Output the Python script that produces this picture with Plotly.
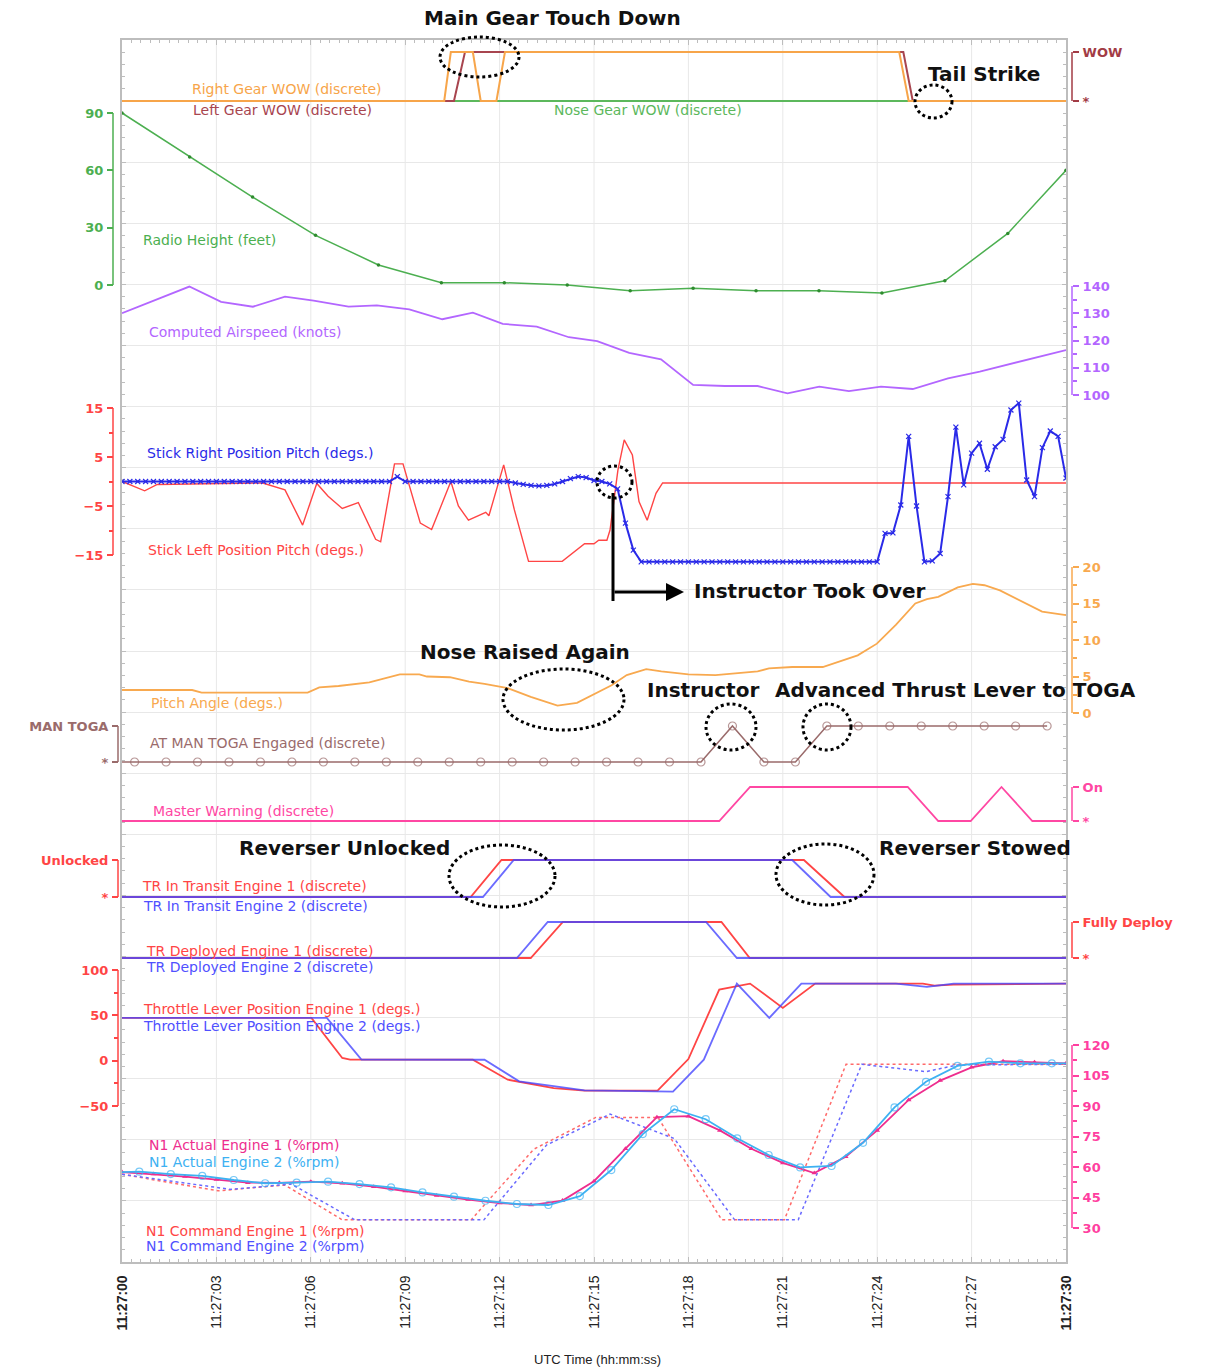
import plotly.graph_objects as go

W, H = 1207, 1369

# ---------------- data (time in seconds after 11:27:00) ----------------
TIME_TICKS = [0, 3, 6, 9, 12, 15, 18, 21, 24, 27, 30]
TIME_LABELS = ["<b>11:27:00</b>", "11:27:03", "11:27:06", "11:27:09", "11:27:12", "11:27:15",
               "11:27:18", "11:27:21", "11:27:24", "11:27:27", "<b>11:27:30</b>"]

RIGHT_WOW_T = [0, 10.24, 10.45, 11.15, 11.4, 11.9, 12.17, 24.7, 25.0, 30]
RIGHT_WOW_V = [0, 0, 1, 1, 0, 0, 1, 1, 0, 0]
LEFT_WOW_T = [0, 10.55, 10.9, 24.83, 25.13, 30]
LEFT_WOW_V = [0, 0, 1, 1, 0, 0]
NOSE_WOW_T = [0, 30]
NOSE_WOW_V = [0, 0]

RH_T = [0, 2.15, 4.15, 6.15, 8.15, 10.15, 12.15, 14.15, 16.15, 18.15, 20.15, 22.15, 24.15, 26.15, 28.15, 30]
RH_V = [90, 67, 46, 26, 10.5, 1.2, 1.2, 0, -3, -1.7, -3, -3, -4.2, 2.2, 27, 60]

AS_T = [0, 2.14, 3.15, 4.16, 5.18, 6.09, 7.2, 8.1, 9.13, 10.18, 11.15, 12.1, 13.18, 14.2, 15.1,
        16.12, 17.13, 18.15, 19.16, 20.2, 21.15, 22.16, 23.1, 24.12, 25.13, 26.25, 27.26, 28.28, 29.3, 30]
AS_V = [130, 139.8, 134.2, 132.4, 136.1, 134.6, 132.4, 132.9, 131.4, 127.8, 130.2, 126.1, 125.1, 121.2, 119.8,
        115.5, 113.1, 103.7, 103.3, 103.3, 100.6, 103.1, 101.4, 103.1, 102.2, 106.1, 108.6, 111.6, 114.7, 116.5]

STICK_R_T = [i * 0.25 for i in range(121)]
STICK_R_V = [0, 0, 0, 0, 0, 0, 0, 0, 0, 0, 0, 0, 0, 0, 0, 0, 0, 0, 0, 0,
             0, 0, 0, 0, 0, 0, 0, 0, 0, 0, 0, 0, 0, 0, 0, 1.0,
             0, 0, 0, 0, 0, 0, 0, 0, 0, 0, 0, 0, 0, 0,
             -0.3, -0.6, -0.8, -0.9, -0.8, -0.5, 0.0, 0.6, 1.0, 0.8, 0.2, 0.0, -0.5, -1.5, -8.5, -14.0,
             -16.4, -16.4, -16.4, -16.4, -16.4, -16.4, -16.4, -16.4, -16.4, -16.4, -16.4, -16.4, -16.4,
             -16.4, -16.4, -16.4, -16.4, -16.4, -16.4, -16.4, -16.4, -16.4, -16.4, -16.4, -16.4, -16.4,
             -16.4, -16.4, -16.4, -16.4, -16.4,
             -10.6, -10.5, -4.8, 9.2, -5.0, -16.4, -16.2, -14.7, -3.1, 11.1, -0.7, 5.8, 7.8, 2.5, 7.1,
             8.6, 14.6, 16.0, 0.3, -3.1, 6.9, 10.3, 9.2, 0.7]

STICK_L_T = [0, 0.72, 1.12, 4.47, 5.18, 5.74, 6.19, 6.55, 7.0, 7.51, 8.06, 8.22, 8.66, 8.93, 9.48, 9.84,
             10.45, 10.69, 11.01, 11.56, 11.66, 12.13, 12.47, 12.92, 13.99, 14.7, 15.0, 15.15, 15.41, 15.51,
             15.76, 15.96, 16.22, 16.43, 16.69, 16.97, 17.18, 30]
STICK_L_V = [0, -1.9, -0.6, -0.3, -1.7, -8.9, -0.4, -3, -5.5, -4.3, -11.8, -12.3, 3.6, 3.6, -8.5, -9.8,
             0, -5, -7.9, -6.3, -7, 3.4, -5.8, -16.3, -16.3, -12.7, -12.7, -12.0, -12, -9.9,
             2.3, 8.5, 5.4, -4.1, -7.9, -2.4, -0.3, -0.3]

PITCH_T = [0, 2.23, 2.53, 5.9, 6.27, 6.88, 7.86, 8.22, 8.83, 9.45, 9.69, 10.42, 11.03, 11.52, 12.26, 12.99,
           13.84, 14.46, 15.07, 15.56, 16.04, 16.66, 17.14, 18.0, 18.86, 19.59, 20.2, 20.56, 21.3, 22.27,
           22.64, 23.38, 23.99, 24.6, 25.21, 25.58, 25.94, 26.56, 27.04, 27.41, 27.9, 28.63, 29.24, 30]
PITCH_V = [3.15, 3.15, 2.8, 2.8, 3.5, 3.7, 4.2, 4.6, 5.3, 5.3, 5.0, 4.9, 4.3, 4.0, 3.4, 2.2,
           1.0, 1.4, 2.7, 3.8, 5.2, 6.0, 5.7, 5.3, 5.2, 5.5, 5.7, 6.1, 6.3, 6.3,
           6.8, 7.9, 9.5, 12.1, 15.0, 15.6, 15.9, 17.2, 17.7, 17.5, 16.8, 15.2, 13.9, 13.4]

TOGA_T = [0, 0.4, 1.4, 2.4, 3.4, 4.4, 5.4, 6.4, 7.4, 8.4, 9.4, 10.4, 11.4, 12.4, 13.4, 14.4, 15.4, 16.4,
          17.4, 18.4, 19.4, 20.4, 21.4, 22.4, 23.4, 24.4, 25.4, 26.4, 27.4, 28.4, 29.4]
TOGA_V = [0, 0, 0, 0, 0, 0, 0, 0, 0, 0, 0, 0, 0, 0, 0, 0, 0, 0, 0, 0, 1, 0, 0, 1, 1, 1, 1, 1, 1, 1, 1]

MW_T = [0, 18.98, 19.96, 24.97, 25.94, 26.97, 27.95, 28.93, 30]
MW_V = [0, 0, 1, 1, 0, 0, 1, 0, 0]

TRT1_T = [0, 11.08, 12.06, 21.67, 22.96, 30]
TRT2_T = [0, 11.47, 12.45, 21.3, 22.52, 30]
TRT_V = [0, 0, 1, 1, 0, 0]
TRD1_T = [0, 12.99, 14.01, 19.05, 19.95, 30]
TRD2_T = [0, 12.55, 13.53, 18.56, 19.54, 30]
TRD_V = [0, 0, 1, 1, 0, 0]

TLA1_T = [0, 6.02, 7.0, 7.25, 11.15, 12.26, 13.72, 14.7, 17.02, 18.0, 18.98, 19.96, 21.0, 22.03,
          25.45, 25.82, 26.43, 30]
TLA1_V = [47.1, 47.1, 3, 1.1, 1.1, -21, -30.2, -33.1, -33.1, 1.8, 78.4, 85, 58.1, 85, 85, 82.8, 83.9, 85]
TLA2_T = [0, 6.51, 7.61, 11.52, 12.62, 12.99, 14.7, 17.51, 18.49, 19.54, 20.57, 21.59, 24.6, 25.58, 26.43, 30]
TLA2_V = [47.1, 47.1, 1.1, 1, -22.8, -24.6, -32.7, -34.2, 1.1, 85, 47.1, 85, 85, 81.3, 85, 85]

N1A1_T = [0, 1, 2, 3, 4, 5, 6, 7, 8, 9, 10, 11, 12, 13, 14, 15, 16, 17, 18, 19, 20, 21, 22, 23, 24, 25,
          26, 27, 28, 29, 30]
N1A1_V = [57.5, 56.5, 55.3, 53.8, 52.3, 52.2, 52.8, 52.0, 50.3, 48.2, 46, 44, 42.3, 41.3, 43.5, 53, 69,
          84.5, 85, 78, 69, 62, 57, 65, 78, 93, 102.5, 109, 112, 111.5, 111]
N1A2_T = [0, 0.55, 1.55, 2.55, 3.55, 4.55, 5.55, 6.55, 7.55, 8.55, 9.55, 10.55, 11.55, 12.55, 13.55, 14.55,
          15.55, 16.55, 17.55, 18.55, 19.55, 20.55, 21.55, 22.55, 23.55, 24.55, 25.55, 26.55, 27.55, 28.55,
          29.55, 30]
N1A2_V = [57.5, 57.7, 56.5, 55.6, 53.6, 52, 52.3, 52.8, 51.6, 50, 47.5, 45.4, 43.4, 41.8, 41.3, 45.7, 58.5,
          76.2, 88.4, 83.5, 74.1, 65.9, 59.8, 60.5, 71.9, 89.3, 101.9, 109.7, 111.8, 111, 111, 111]
N1C1_T = [0, 3.05, 5.18, 7.0, 11.1, 13.08, 15.06, 17.03, 19.06, 21.05, 23.01, 30]
N1C1_V = [56.4, 48.3, 51.1, 34, 34, 68.7, 84.4, 84.4, 34, 34, 110.5, 110.5]
N1C2_T = [0, 3.45, 5.38, 7.4, 11.5, 13.49, 15.51, 17.55, 19.47, 21.49, 23.51, 25.55, 26.56, 30]
N1C2_V = [56.4, 49, 51.6, 34, 34, 70.8, 86, 74, 34, 34, 110.5, 106.9, 110.2, 110.5]

# ---------------- styling ----------------
FONT = "DejaVu Sans"
C_WOW = "#a23b45"
C_RGEAR = "#f7a54a"
C_LGEAR = "#a8454f"
C_NOSE = "#5cb85c"
C_RH = "#4caf50"
C_AS = "#b366ff"
C_RED = "#ff4545"
C_BLUE = "#2a2ae8"
C_PITCH = "#f8a94f"
C_TOGA = "#9a6b6b"
C_MW = "#ff47a3"
C_TRB = "#5050ff"
C_TRB_T = "rgba(70,70,255,0.8)"
C_N1AX = "#ff3fa0"
C_N1A1 = "#ee2d8e"
C_N1A2 = "#3db1f2"
FRAME = "#bdbdbd"
GRID = "#e8e8e8"

X_LEFT, X_RIGHT, Y_TOP, Y_BOT = 122, 1066, 40, 1262


def xp(px):
    return px / W


def yp(py):
    return (H - py) / H


def axis_range(v_a, p_a, v_b, p_b, top, bot):
    k = (p_b - p_a) / (v_b - v_a)
    return [v_a + (bot - p_a) / k, v_a + (top - p_a) / k], [yp(bot), yp(top)]


fig = go.Figure()

layout = dict(
    template="none",
    width=W, height=H, autosize=False, margin=dict(l=0, r=0, t=0, b=0, pad=0, autoexpand=False),
    paper_bgcolor="white", plot_bgcolor="rgba(0,0,0,0)", showlegend=False,
    xaxis=dict(domain=[xp(X_LEFT), xp(X_RIGHT)], range=[0, 30], anchor="y", automargin=False,
               tickmode="array", tickvals=TIME_TICKS, ticktext=TIME_LABELS, tickangle=-90,
               ticks="inside", ticklen=5, tickcolor=FRAME,
               minor=dict(dtick=0.3, tick0=0, ticks="inside", ticklen=3, tickcolor=FRAME, showgrid=False),
               showgrid=False, zeroline=False, showline=True, linecolor=FRAME, linewidth=1.5,
               mirror="ticks", tickfont=dict(family="Liberation Sans", size=14, color="#222"),
               ticklabelstandoff=6),
    yaxis=dict(domain=[yp(Y_BOT), yp(Y_TOP)], range=[0, 20], anchor="x", automargin=False,
               tickmode="linear", tick0=0, dtick=1, ticks="inside", ticklen=4, tickcolor=FRAME,
               minor=dict(dtick=0.2, tick0=0, ticks="inside", ticklen=3, tickcolor=FRAME, showgrid=False),
               showgrid=True, gridcolor=GRID, gridwidth=1, showticklabels=False,
               zeroline=False, showline=True, linecolor=FRAME, linewidth=1.5, mirror="ticks"),
)

shapes = []
# vertical grid lines at the labelled times
for t in TIME_TICKS[1:-1]:
    shapes.append(dict(type="line", xref="x", yref="paper", x0=t, x1=t, y0=yp(Y_BOT), y1=yp(Y_TOP),
                       line=dict(color=GRID, width=1), layer="below"))

AXES = [
    # name, ref points, domain px (top, bot), side, x pos, color, tickvals, ticktext, minor
    ("y2", (0, 101, 1, 52), (44, 110), "right", 1072, C_WOW, [0, 1], ["*", "WOW"], None),
    ("y3", (0, 285, 90, 113), (104, 300), "left", 113, C_RH, [0, 30, 60, 90], None, None),
    ("y4", (100, 395, 140, 286), (278, 402), "right", 1072, C_AS, [100, 110, 120, 130, 140], None,
     [105, 115, 125, 135]),
    ("y5", (-15, 555, 15, 408), (398, 572), "left", 113, C_RED, [-15, -5, 5, 15], None, [-10, 0, 10]),
    ("y6", (0, 713, 20, 567), (560, 722), "right", 1072, C_PITCH, [0, 5, 10, 15, 20], None,
     [2.5, 7.5, 12.5, 17.5]),
    ("y7", (0, 762, 1, 726), (716, 772), "left", 118, C_TOGA, [0, 1], ["*", "MAN TOGA"], None),
    ("y8", (0, 821, 1, 787), (778, 830), "right", 1072, C_MW, [0, 1], ["*", "On"], None),
    ("y9", (0, 897, 1, 860), (850, 906), "left", 118, C_RED, [0, 1], ["*", "Unlocked"], None),
    ("y10", (0, 958, 1, 922), (913, 966), "right", 1072, C_RED, [0, 1], ["*", "Fully Deploy"], None),
    ("y11", (-50, 1106, 100, 970), (960, 1116), "left", 118, C_RED, [-50, 0, 50, 100], None,
     [-25, 25, 75]),
    ("y12", (30, 1228, 120, 1045), (1038, 1240), "right", 1072, C_N1AX,
     [30, 45, 60, 75, 90, 105, 120], None, [37.5, 52.5, 67.5, 82.5, 97.5, 112.5]),
]

for name, ref, dom, side, pos, col, tv, tt, minor in AXES:
    rng, domain = axis_range(ref[0], ref[1], ref[2], ref[3], dom[0], dom[1])
    ax = dict(domain=domain, range=rng, anchor="free", position=xp(pos), side=side, automargin=False,
              tickmode="array", tickvals=tv, ticks="outside", ticklen=6, tickwidth=1.5, tickcolor=col,
              showgrid=False, zeroline=False, showline=False,
              tickfont=dict(family=FONT, size=13, color=col, weight="bold"), ticklabelstandoff=1)
    if tt is not None:
        ax["ticktext"] = tt
    if minor is not None:
        ax["minor"] = dict(tickmode="array", tickvals=minor, ticks="outside", ticklen=4,
                           tickwidth=1.5, tickcolor=col, showgrid=False)
    layout["yaxis" + name[1:]] = ax
    shapes.append(dict(type="line", xref="paper", yref=name, x0=xp(pos), x1=xp(pos),
                       y0=min(tv), y1=max(tv), line=dict(color=col, width=1.5)))


def add(t, v, ax, color, width=1.8, dash=None, marker=None, mode="lines"):
    fig.add_trace(go.Scatter(x=t, y=v, xaxis="x", yaxis=ax, mode=mode,
                             line=dict(color=color, width=width, dash=dash),
                             marker=marker, hoverinfo="skip", showlegend=False))


# invisible trace that holds the frame/grid subplot
fig.add_trace(go.Scatter(x=[0, 30], y=[0, 20], xaxis="x", yaxis="y", mode="markers",
                         marker=dict(opacity=0, size=1), hoverinfo="skip", showlegend=False))
# WOW
add(NOSE_WOW_T, NOSE_WOW_V, "y2", C_NOSE, 2)
add(LEFT_WOW_T, LEFT_WOW_V, "y2", C_LGEAR, 2)
add(RIGHT_WOW_T, RIGHT_WOW_V, "y2", C_RGEAR, 2)
# radio height
add(RH_T, RH_V, "y3", C_RH, 1.5, mode="lines+markers",
    marker=dict(symbol="circle", size=3.5, color="#2e8b2e"))
# airspeed
add(AS_T, AS_V, "y4", C_AS, 1.8)
# stick
add(STICK_L_T, STICK_L_V, "y5", C_RED, 1.4)
add(STICK_R_T, STICK_R_V, "y5", C_BLUE, 2, mode="lines+markers",
    marker=dict(symbol="x-thin", size=5, color=C_BLUE, line=dict(width=1.2, color=C_BLUE)))
# pitch
add(PITCH_T, PITCH_V, "y6", C_PITCH, 1.8)
# AT MAN TOGA
add(TOGA_T, TOGA_V, "y7", C_TOGA, 1.5, mode="lines+markers",
    marker=dict(symbol="circle-open", size=[0] + [8] * (len(TOGA_T) - 1), color=C_TOGA,
                line=dict(width=1.2, color=C_TOGA)))
# master warning
add(MW_T, MW_V, "y8", C_MW, 1.8)
# TR in transit
add(TRT1_T, TRT_V, "y9", C_RED, 1.8)
add(TRT2_T, TRT_V, "y9", C_TRB_T, 1.8)
# TR deployed
add(TRD1_T, TRD_V, "y10", C_RED, 1.8)
add(TRD2_T, TRD_V, "y10", C_TRB_T, 1.8)
# throttle
add(TLA1_T, TLA1_V, "y11", C_RED, 1.8)
add(TLA2_T, TLA2_V, "y11", C_TRB_T, 1.8)
# N1
add(N1C1_T, N1C1_V, "y12", "#ff6a6a", 1.5, dash="dot")
add(N1C2_T, N1C2_V, "y12", "#6a6aff", 1.5, dash="dot")
add(N1A1_T, N1A1_V, "y12", C_N1A1, 1.8, mode="lines+markers",
    marker=dict(symbol="triangle-up", size=5, color=C_N1A1))
add(N1A2_T, N1A2_V, "y12", C_N1A2, 1.8, mode="lines+markers",
    marker=dict(symbol="circle-open", size=[0] + [7] * (len(N1A2_T) - 2) + [0], color=C_N1A2,
                line=dict(width=1.2, color=C_N1A2)))

# ---------------- text ----------------
SERIES_LABELS = [
    ("Right Gear WOW (discrete)", 190, 89, C_RGEAR),
    ("Left Gear WOW (discrete)", 191, 110, C_LGEAR),
    ("Nose Gear WOW (discrete)", 552, 110, C_NOSE),
    ("Radio Height (feet)", 141, 240, C_RH),
    ("Computed Airspeed (knots)", 147, 332, C_AS),
    ("Stick Right Position Pitch (degs.)", 145, 453, C_BLUE),
    ("Stick Left Position Pitch (degs.)", 146, 550, C_RED),
    ("Pitch Angle (degs.)", 149, 703, C_PITCH),
    ("AT MAN TOGA Engaged (discrete)", 148, 743, C_TOGA),
    ("Master Warning (discrete)", 151, 811, C_MW),
    ("TR In Transit Engine 1 (discrete)", 140, 886, C_RED),
    ("TR In Transit Engine 2 (discrete)", 141, 906, C_TRB),
    ("TR Deployed Engine 1 (discrete)", 144, 951, C_RED),
    ("TR Deployed Engine 2 (discrete)", 144, 967, C_TRB),
    ("Throttle Lever Position Engine 1 (degs.)", 141, 1009, C_RED),
    ("Throttle Lever Position Engine 2 (degs.)", 141, 1026, C_TRB),
    ("N1 Actual Engine 1 (%rpm)", 147, 1145, C_N1A1),
    ("N1 Actual Engine 2 (%rpm)", 147, 1162, C_N1A2),
    ("N1 Command Engine 1 (%rpm)", 144, 1231, C_RED),
    ("N1 Command Engine 2 (%rpm)", 144, 1246, C_TRB),
]
CALLOUTS = [
    ("Main Gear Touch Down", 552, 18, "center"),
    ("Tail Strike", 926, 74, "left"),
    ("Instructor Took Over", 692, 591, "left"),
    ("Nose Raised Again", 418, 652, "left"),
    ("Instructor", 645, 690, "left"),
    ("Advanced Thrust Lever to TOGA", 773, 690, "left"),
    ("Reverser Unlocked", 237, 848, "left"),
    ("Reverser Stowed", 877, 848, "left"),
]
# dotted highlight ellipses: (x0, y0, x1, y1) in pixels
CIRCLES = [(440, 37, 519, 77), (915, 85, 952, 118), (597, 466, 632, 498), (503, 669, 624, 730),
           (706, 704, 756, 750), (803, 704, 851, 750), (449, 845, 555, 907), (776, 844, 874, 905)]

annotations = []
for text, x, y, col in SERIES_LABELS:
    annotations.append(dict(text=text, x=xp(x), y=yp(y), xref="paper", yref="paper",
                            xanchor="left", yanchor="middle", showarrow=False,
                            font=dict(family=FONT, size=14, color=col)))
for text, x, y, anc in CALLOUTS:
    annotations.append(dict(text="<b>" + text + "</b>", x=xp(x), y=yp(y), xref="paper", yref="paper",
                            xanchor=anc, yanchor="middle", showarrow=False,
                            font=dict(family=FONT, size=20, color="#111")))
annotations.append(dict(text="UTC Time (hh:mm:ss)", x=xp(597), y=yp(1359), xref="paper", yref="paper",
                        xanchor="center", yanchor="middle", showarrow=False,
                        font=dict(family="Liberation Sans", size=13, color="#222")))
# arrow of "Instructor Took Over"
annotations.append(dict(text="", x=xp(684), y=yp(592), xref="paper", yref="paper", ax=-71, ay=0,
                        showarrow=True, arrowhead=2, arrowsize=1.2, arrowwidth=3, arrowcolor="black"))
shapes.append(dict(type="line", xref="paper", yref="paper", x0=xp(613), x1=xp(613), y0=yp(493),
                   y1=yp(601), line=dict(color="black", width=3)))
for x0, y0, x1, y1 in CIRCLES:
    shapes.append(dict(type="circle", xref="paper", yref="paper", x0=xp(x0), x1=xp(x1), y0=yp(y1),
                       y1=yp(y0), line=dict(color="black", width=3, dash="dot")))

layout["shapes"] = shapes
layout["annotations"] = annotations
fig.update_layout(**layout)
fig.write_html("out.html", config={"responsive": False, "displayModeBar": False},
               post_script="document.body.style.margin='0px';")
